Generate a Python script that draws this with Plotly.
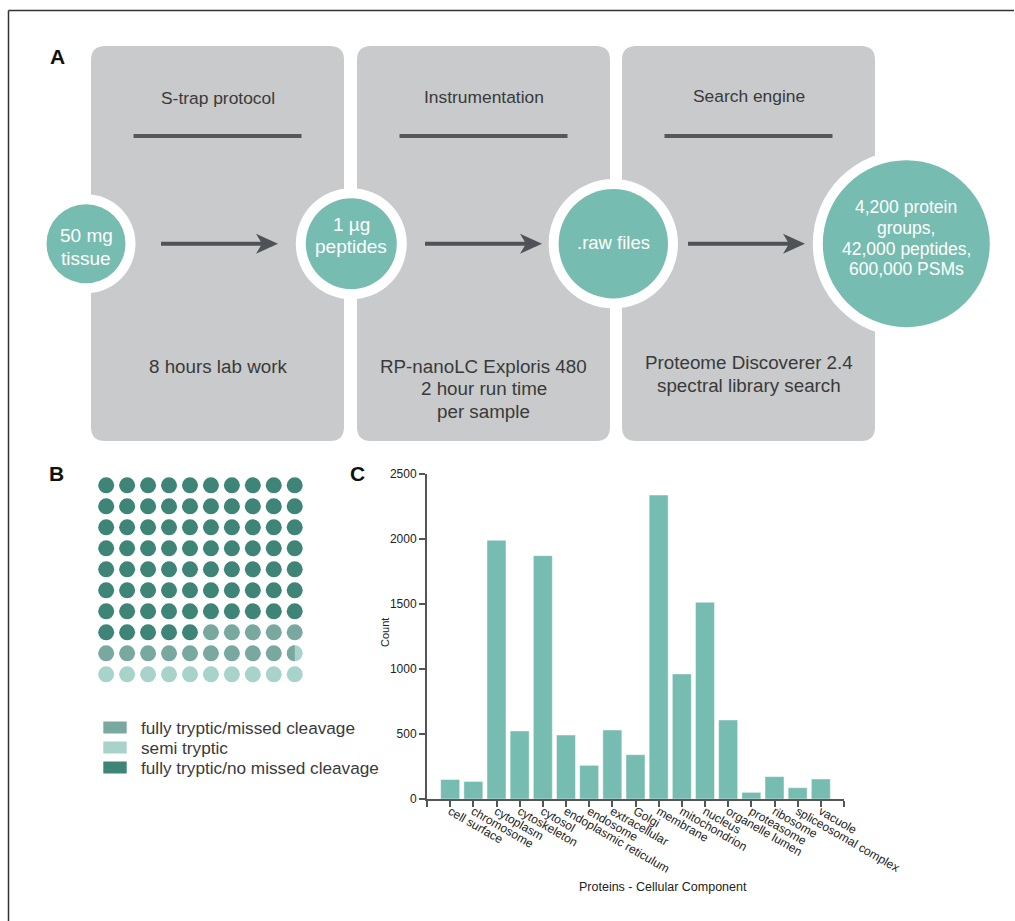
import math
import plotly.graph_objects as go

W, H = 1015, 921
FONT = "Arial, Liberation Sans, sans-serif"

# ---------------- data ----------------
# Panel A: workflow
stage_titles = ["S-trap protocol", "Instrumentation", "Search engine"]
stage_notes = [
    ["8 hours lab work"],
    ["RP-nanoLC Exploris 480", "2 hour run time", "per sample"],
    ["Proteome Discoverer 2.4", "spectral library search"],
]
node_labels = [
    ["50 mg", "tissue"],
    ["1 µg", "peptides"],
    [".raw files"],
    ["4,200 protein", "groups,", "42,000 peptides,", "600,000 PSMs"],
]

# Panel B: peptide classes (percent of identified peptides)
peptide_classes = ["fully tryptic/no missed cleavage", "fully tryptic/missed cleavage", "semi tryptic"]
peptide_percent = [75, 14.5, 10.5]
legend_order = ["fully tryptic/missed cleavage", "semi tryptic", "fully tryptic/no missed cleavage"]

# Panel C: cellular component annotation
components = ["cell surface", "chromosome", "cytoplasm", "cytoskeleton", "cytosol",
              "endoplasmic reticulum", "endosome", "extracellular", "Golgi", "membrane",
              "mitochondrion", "nucleus", "organelle lumen", "proteasome", "ribosome",
              "spliceosomal complex", "vacuole"]
protein_counts = [150, 135, 1990, 523, 1872, 492, 259, 531, 341, 2338,
                  962, 1513, 608, 51, 172, 87, 154]
count_ticks = [0, 500, 1000, 1500, 2000, 2500]

# ---------------- styles ----------------
GRAY_BOX = "#c8cacb"
TEAL = "#77bcb1"
DARK_LINE = "#54585b"
TEXT = "#3a3a3a"
class_colors = {
    "fully tryptic/no missed cleavage": "#3e8477",
    "fully tryptic/missed cleavage": "#79a8a1",
    "semi tryptic": "#a7d3cb",
}

fig = go.Figure()
shapes = []
annotations = []


def rounded_rect(x0, y0, x1, y1, r):
    return (f"M{x0+r},{y0} L{x1-r},{y0} Q{x1},{y0} {x1},{y0+r} L{x1},{y1-r} "
            f"Q{x1},{y1} {x1-r},{y1} L{x0+r},{y1} Q{x0},{y1} {x0},{y1-r} "
            f"L{x0},{y0+r} Q{x0},{y0} {x0+r},{y0} Z")


def label(text, x, y, size, color=TEXT, bold=False, **kw):
    annotations.append(dict(
        text=f"<b>{text}</b>" if bold else text, x=x, y=y, xref="x", yref="y",
        showarrow=False, xanchor=kw.pop("xanchor", "center"), yanchor="middle",
        font=dict(family=FONT, size=size, color=color), **kw))


# outer frame (top and left rules)
shapes.append(dict(type="line", xref="x", yref="y", x0=8.5, y0=10.5, x1=1014, y1=10.5,
                   line=dict(color="#333333", width=1.5)))
shapes.append(dict(type="line", xref="x", yref="y", x0=8.5, y0=10.5, x1=8.5, y1=921,
                   line=dict(color="#333333", width=1.5)))

# ---------------- Panel A ----------------
label("A", 57, 56, 21, color="#111111", bold=True)
box_x = [(91, 344), (357, 610), (622, 875)]
box_top, box_bottom = 46, 441
title_y = [97.5, 96.5, 95.5]
note_y0 = [366, 366, 362.5]
for i, (x0, x1) in enumerate(box_x):
    shapes.append(dict(type="path", xref="x", yref="y", path=rounded_rect(x0, box_top, x1, box_bottom, 14),
                       fillcolor=GRAY_BOX, line=dict(width=0), layer="below"))
    cx = (x0 + x1) / 2
    label(stage_titles[i], cx, title_y[i], 17.4)
    shapes.append(dict(type="line", xref="x", yref="y", x0=cx - 84, y0=136, x1=cx + 84, y1=136,
                       line=dict(color=DARK_LINE, width=4)))
    for j, line_txt in enumerate(stage_notes[i]):
        label(line_txt, cx, note_y0[i] + 22.5 * j, 18.8)

# workflow nodes
node_cx = [86, 351.3, 613.3, 906.3]
node_r = [39.5, 45.5, 54.7, 83.5]
node_cy = 243.7
node_size = [19, 19, 18.5, 17.5]
node_first_y = [235, 224.5, 242, 207]
node_step = [23, 22, 0, 20.8]
for i in range(4):
    cx, r = node_cx[i], node_r[i]
    ro = r + 10
    shapes.append(dict(type="circle", xref="x", yref="y", x0=cx - ro, y0=node_cy - ro, x1=cx + ro, y1=node_cy + ro,
                       fillcolor="white", line=dict(width=0)))
    shapes.append(dict(type="circle", xref="x", yref="y", x0=cx - r, y0=node_cy - r, x1=cx + r, y1=node_cy + r,
                       fillcolor=TEAL, line=dict(width=0)))
    for j, t in enumerate(node_labels[i]):
        label(t, cx, node_first_y[i] + node_step[i] * j, node_size[i], color="white")

# arrows between nodes
arrow_start = [161, 425, 688]
for xs in arrow_start:
    tip = xs + 117
    shapes.append(dict(type="line", xref="x", yref="y", x0=xs, y0=243.7, x1=tip - 14, y1=243.7,
                       line=dict(color="#4f5357", width=4)))
    shapes.append(dict(type="path", xref="x", yref="y",
                       path=f"M{tip},243.7 L{tip-22},233.7 L{tip-16},243.7 L{tip-22},253.7 Z",
                       fillcolor="#4f5357", line=dict(width=0)))

# ---------------- Panel B: waffle ----------------
label("B", 56, 473.5, 21, color="#111111", bold=True)
bounds = []
acc = 0
for v in peptide_percent:
    bounds.append((acc, acc + v))
    acc += v


def class_at(pos):
    for name, (a, b) in zip(peptide_classes, bounds):
        if a <= pos < b:
            return name
    return peptide_classes[-1]


cells = {name: ([], []) for name in peptide_classes}
partials = []
for k in range(100):
    col, row = k % 10, k // 10
    owner = class_at(k + 0.999)
    cells[owner][0].append(col)
    cells[owner][1].append(row)
    first = class_at(k)
    if first != owner:
        a, b = bounds[peptide_classes.index(first)]
        partials.append((col, row, first, b - k))

for name in peptide_classes:
    xs, ys = cells[name]
    fig.add_trace(go.Scatter(x=xs, y=ys, mode="markers", xaxis="x2", yaxis="y2",
                             marker=dict(size=16, color=class_colors[name], line=dict(width=0)),
                             hoverinfo="skip", showlegend=False))

# split cell: left circular segment covering the given fraction of the dot area
px_per_col, px_per_row = 20.94, 21.0
rx, ry = 8 / px_per_col, 8 / px_per_row
for col, row, name, frac in partials:
    lo, hi = -1.0, 1.0
    for _ in range(60):
        u = (lo + hi) / 2
        area = (u * math.sqrt(1 - u * u) + math.asin(u) + math.pi / 2) / math.pi
        if area < frac:
            lo = u
        else:
            hi = u
    phi0 = math.acos(u)
    n = 60
    xs, ys = [], []
    for s in range(n + 1):
        phi = phi0 + (2 * math.pi - 2 * phi0) * s / n
        xs.append(col + rx * math.cos(phi))
        ys.append(row + ry * math.sin(phi))
    fig.add_trace(go.Scatter(x=xs, y=ys, mode="lines", fill="toself", xaxis="x2", yaxis="y2",
                             fillcolor=class_colors[name], line=dict(width=0),
                             hoverinfo="skip", showlegend=False))

# legend
for j, name in enumerate(legend_order):
    yc = 727.5 + 20 * j
    shapes.append(dict(type="rect", xref="x", yref="y", x0=103.3, x1=126.7, y0=yc - 6, y1=yc + 6,
                       fillcolor=class_colors[name], line=dict(width=0)))
    label(name, 138.5, yc, 17.2, xanchor="left")

# ---------------- Panel C: bar chart ----------------
label("C", 357.5, 473.5, 21, color="#111111", bold=True)
idx = list(range(len(components)))
fig.add_trace(go.Bar(x=idx, y=protein_counts, xaxis="x3", yaxis="y3", width=0.82,
                     marker=dict(color=TEAL, line=dict(color="rgba(255,255,255,0.45)", width=1)),
                     hoverinfo="skip", showlegend=False))
label("Count", 385, 633, 11, color="#222222", textangle=-90)
label("Proteins - Cellular Component", 663, 887, 12.5, color="#222222")

axis_hidden = dict(visible=False, showgrid=False, zeroline=False, fixedrange=True, automargin=False)
fig.update_layout(
    width=W, height=H, autosize=False,
    margin=dict(l=0, r=0, t=0, b=0, pad=0, autoexpand=False),
    paper_bgcolor="white", plot_bgcolor="rgba(0,0,0,0)",
    showlegend=False,
    xaxis=dict(range=[0, W], domain=[0, 1], **axis_hidden),
    yaxis=dict(range=[H, 0], domain=[0, 1], **axis_hidden),
    xaxis2=dict(range=[-0.5, 9.5], domain=[95.7 / W, 305.2 / W], anchor="y2", **axis_hidden),
    yaxis2=dict(range=[9.5, -0.5], domain=[1 - 684.8 / H, 1 - 474.8 / H], anchor="x2", **axis_hidden),
    xaxis3=dict(
        range=[-1, len(components)], domain=[427 / W, 844 / W], anchor="y3",
        tickmode="array", tickvals=[-1] + idx + [len(components)],
        ticktext=[""] + components + [""],
        tickangle=30, ticks="outside", ticklen=6, tickwidth=1.5, tickcolor="#555555",
        ticklabelstandoff=-7,
        showline=True, linecolor="#555555", linewidth=2, showgrid=False, zeroline=False,
        tickfont=dict(family=FONT, size=12, color="#222222"), fixedrange=True, automargin=False,
    ),
    yaxis3=dict(
        range=[0, 2500], domain=[1 - 799 / H, 1 - 474 / H], anchor="x3",
        tickmode="array", tickvals=count_ticks,
        ticks="outside", ticklen=6, tickwidth=1.5, tickcolor="#555555",
        showline=True, linecolor="#555555", linewidth=2, showgrid=False, zeroline=False,
        tickfont=dict(family=FONT, size=12, color="#222222"), fixedrange=True, automargin=False,
    ),
    shapes=shapes,
    annotations=annotations,
    bargap=0.18,
)

fig.write_html(
    "out.html",
    config={"displayModeBar": False, "responsive": False},
    post_script="document.body.style.margin='0';document.body.style.overflow='hidden';",
)
